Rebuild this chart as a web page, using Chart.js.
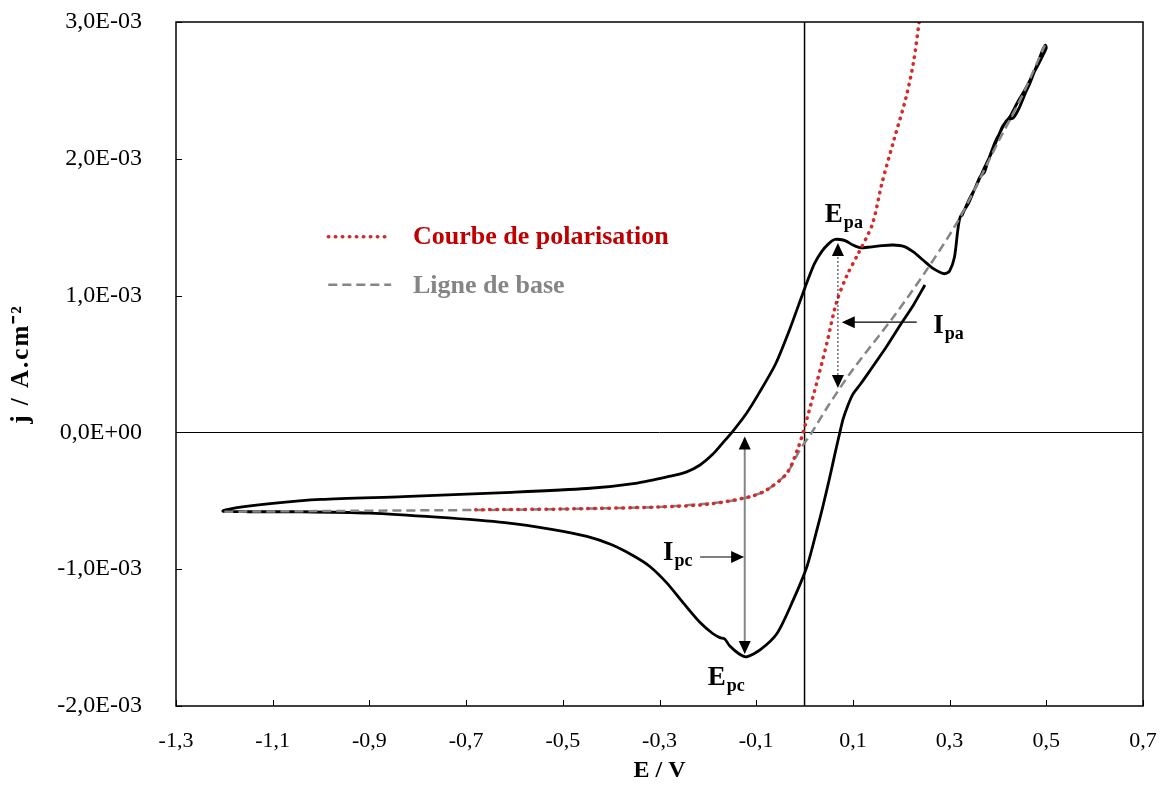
<!DOCTYPE html>
<html>
<head>
<meta charset="utf-8">
<script src="https://cdn.jsdelivr.net/npm/chart.js@4"></script>
<style>
  body { margin: 0; background: #fff; }
  canvas { display: block; }
</style>
</head>
<body>
<canvas id="cv" width="1166" height="785"></canvas>
<script>
// Voltammogramme : E en V, j en 1E-03 A.cm-2
const cvE = [0.249, 0.225, 0.197, 0.17, 0.135, 0.115, 0.10, 0.09, 0.08, 0.073, 0.062, 0.052, 0.038, 0.025,
    0.005, -0.024, -0.057, -0.092, -0.12, -0.135, -0.155, -0.165, -0.175, -0.19, -0.216, -0.25,
    -0.285, -0.32, -0.355, -0.40, -0.45, -0.52, -0.62, -0.76, -0.90, -1.04, -1.15, -1.203,
    -1.174, -1.105, -1.0, -0.83, -0.62, -0.45, -0.346, -0.278, -0.245, -0.217, -0.19, -0.17,
    -0.148, -0.12, -0.092, -0.06, -0.03, 0.001, 0.02, 0.035, 0.05, 0.062, 0.073, 0.085, 0.10,
    0.115, 0.135, 0.16, 0.183, 0.205, 0.225, 0.245, 0.265, 0.28, 0.29, 0.30,
    0.31, 0.317, 0.322, 0.34, 0.363, 0.372, 0.38, 0.395, 0.404, 0.418, 0.432, 0.445, 0.458,
    0.466, 0.48, 0.493, 0.498, 0.50, 0.495, 0.485, 0.47, 0.455, 0.44, 0.425, 0.41, 0.398,
    0.385, 0.37, 0.355, 0.34, 0.325];
const cvJ = [1.078, 0.93, 0.78, 0.63, 0.45, 0.35, 0.28, 0.20, 0.10, 0.0, -0.17, -0.33, -0.54, -0.72,
    -0.98, -1.23, -1.47, -1.59, -1.64, -1.62, -1.56, -1.51, -1.50, -1.47, -1.39, -1.25,
    -1.10, -0.98, -0.90, -0.82, -0.76, -0.71, -0.66, -0.62, -0.59, -0.58, -0.58, -0.575,
    -0.55, -0.52, -0.49, -0.47, -0.44, -0.41, -0.37, -0.32, -0.29, -0.24, -0.16, -0.08,
    0.01, 0.14, 0.30, 0.50, 0.76, 1.06, 1.23, 1.32, 1.38, 1.41, 1.41, 1.40, 1.37,
    1.35, 1.355, 1.365, 1.37, 1.36, 1.32, 1.26, 1.20, 1.17, 1.16, 1.18,
    1.28, 1.48, 1.575, 1.68, 1.87, 1.90, 1.99, 2.13, 2.19, 2.28, 2.30, 2.38, 2.49,
    2.55, 2.68, 2.80, 2.83, 2.81, 2.77, 2.70, 2.60, 2.50, 2.41, 2.31, 2.24, 2.14,
    2.03, 1.92, 1.80, 1.70, 1.58];

// Ligne de base
const baseE = [-1.2, -1.0, -0.8, -0.6, -0.42, -0.3, -0.216, -0.15, -0.113, -0.078, -0.037, -0.01,
    0.015, 0.05, 0.10, 0.183, 0.253, 0.322, 0.40, 0.45, 0.497];
const baseJ = [-0.58, -0.575, -0.57, -0.565, -0.555, -0.545, -0.525, -0.50, -0.47, -0.42, -0.30, -0.13,
    0.0, 0.20, 0.46, 0.84, 1.19, 1.575, 2.12, 2.46, 2.83];

// Courbe de polarisation
const polE = [-0.68, -0.5, -0.3, -0.2, -0.113, -0.078, -0.037, -0.014, -0.003, 0.005, 0.025, 0.046,
    0.066, 0.088, 0.11, 0.14, 0.16, 0.185, 0.21, 0.225, 0.237];
const polJ = [-0.565, -0.56, -0.545, -0.525, -0.47, -0.42, -0.30, -0.12, 0.0, 0.10, 0.36, 0.65,
    0.95, 1.15, 1.30, 1.52, 1.82, 2.14, 2.45, 2.70, 3.0];

const xTicks = [-1.3, -1.1, -0.9, -0.7, -0.5, -0.3, -0.1, 0.1, 0.3, 0.5, 0.7];
const yTicks = [-2e-3, -1e-3, 0, 1e-3, 2e-3, 3e-3];

const legendLabels = ['Courbe de polarisation', 'Ligne de base'];

const toPts = (es, js) => es.map((e, i) => ({ x: e, y: js[i] * 1e-3 }));

const SERIF = "'Liberation Serif', 'Times New Roman', serif";
const RED = '#d42a2a';
const GREY = '#858585';

function fmtExp(v) {
    const s = v.toExponential(1).split('e');
    const n = parseInt(s[1], 10);
    return s[0].replace('.', ',') + 'E' + (n < 0 ? '-' : '+') + String(Math.abs(n)).padStart(2, '0');
}

function arrowHead(ctx, x, y, dx, dy) {
    // pointe en (x,y), direction (dx,dy)
    const len = 13, half = 6;
    const n = Math.hypot(dx, dy);
    const ux = dx / n, uy = dy / n;
    ctx.beginPath();
    ctx.moveTo(x, y);
    ctx.lineTo(x - ux * len - uy * half, y - uy * len + ux * half);
    ctx.lineTo(x - ux * len + uy * half, y - uy * len - ux * half);
    ctx.closePath();
    ctx.fill();
}

function subText(ctx, main, sub, x, y) {
    ctx.font = 'bold 27px ' + SERIF;
    ctx.textAlign = 'left';
    ctx.textBaseline = 'alphabetic';
    ctx.fillText(main, x, y);
    const w = ctx.measureText(main).width;
    ctx.font = 'bold 18px ' + SERIF;
    ctx.fillText(sub, x + w + 1, y + 6);
}

const decor = {
    id: 'decor',
    beforeDatasetsDraw(chart) {
        const { ctx, chartArea: a, scales: { x, y } } = chart;
        ctx.save();
        ctx.strokeStyle = '#000';
        ctx.lineWidth = 1;
        const y0 = Math.round(y.getPixelForValue(0)) + 0.5;
        ctx.beginPath(); ctx.moveTo(a.left, y0); ctx.lineTo(a.right, y0); ctx.stroke();
        ctx.lineWidth = 1.5;
        const x0 = x.getPixelForValue(0);
        ctx.beginPath(); ctx.moveTo(x0, a.top); ctx.lineTo(x0, a.bottom); ctx.stroke();
        ctx.restore();
    },
    afterDatasetsDraw(chart) {
        const { ctx, chartArea: a, scales: { x, y } } = chart;
        const px = v => x.getPixelForValue(v);
        const py = v => y.getPixelForValue(v * 1e-3);
        ctx.save();

        // cadre + graduations intérieures
        ctx.strokeStyle = '#000';
        ctx.lineWidth = 1.5;
        ctx.strokeRect(a.left, a.top, a.right - a.left, a.bottom - a.top);
        ctx.lineWidth = 1;
        xTicks.forEach(t => {
            const p = Math.round(x.getPixelForValue(t)) + 0.5;
            ctx.beginPath(); ctx.moveTo(p, a.bottom); ctx.lineTo(p, a.bottom - 6); ctx.stroke();
        });
        yTicks.forEach(t => {
            const p = Math.round(y.getPixelForValue(t)) + 0.5;
            ctx.beginPath(); ctx.moveTo(a.left, p); ctx.lineTo(a.left + 6, p); ctx.stroke();
        });

        // titre de l'axe des ordonnées
        ctx.save();
        ctx.translate(22, (a.top + a.bottom) / 2);
        ctx.rotate(-Math.PI / 2);
        ctx.font = 'bold 25px ' + SERIF;
        ctx.letterSpacing = '2px';
        ctx.fillStyle = '#000';
        ctx.textAlign = 'center';
        ctx.textBaseline = 'middle';
        ctx.fillText('j / A.cm⁻²', 0, 0);
        ctx.restore();

        // légende dans le graphe
        ctx.lineCap = 'round';
        ctx.strokeStyle = RED;
        ctx.lineWidth = 3.5;
        ctx.setLineDash([0.5, 6.5]);
        ctx.beginPath(); ctx.moveTo(px(-0.985), py(1.43)); ctx.lineTo(px(-0.855), py(1.43)); ctx.stroke();
        ctx.lineCap = 'butt';
        ctx.strokeStyle = GREY;
        ctx.lineWidth = 2.5;
        ctx.setLineDash([9, 5]);
        ctx.beginPath(); ctx.moveTo(px(-0.985), py(1.08)); ctx.lineTo(px(-0.855), py(1.08)); ctx.stroke();
        ctx.setLineDash([]);
        ctx.font = 'bold 26px ' + SERIF;
        ctx.textAlign = 'left';
        ctx.textBaseline = 'alphabetic';
        ctx.fillStyle = '#c00000';
        ctx.fillText(legendLabels[0], px(-0.81), py(1.375));
        ctx.fillStyle = GREY;
        ctx.fillText(legendLabels[1], px(-0.81), py(1.02));

        // Ipc : flèche verticale grise
        ctx.fillStyle = '#000';
        ctx.strokeStyle = GREY;
        ctx.lineWidth = 2;
        const xc = px(-0.1237);
        ctx.beginPath(); ctx.moveTo(xc, py(-0.03) + 10); ctx.lineTo(xc, py(-1.62) - 10); ctx.stroke();
        arrowHead(ctx, xc, py(-0.03), 0, -1);
        arrowHead(ctx, xc, py(-1.62), 0, 1);
        ctx.strokeStyle = '#000';
        ctx.lineWidth = 1.2;
        ctx.beginPath(); ctx.moveTo(px(-0.216), py(-0.911)); ctx.lineTo(px(-0.125) - 10, py(-0.911)); ctx.stroke();
        arrowHead(ctx, px(-0.125), py(-0.911), 1, 0);

        // Ipa : flèche verticale pointillée
        const xa = px(0.069);
        ctx.strokeStyle = '#222';
        ctx.lineWidth = 1;
        ctx.setLineDash([2, 2]);
        ctx.beginPath(); ctx.moveTo(xa, py(1.385) + 10); ctx.lineTo(xa, py(0.325) - 10); ctx.stroke();
        ctx.setLineDash([]);
        arrowHead(ctx, xa, py(1.385), 0, -1);
        arrowHead(ctx, xa, py(0.325), 0, 1);
        ctx.strokeStyle = '#000';
        ctx.lineWidth = 1.2;
        ctx.beginPath(); ctx.moveTo(px(0.232), py(0.806)); ctx.lineTo(px(0.077) + 10, py(0.806)); ctx.stroke();
        arrowHead(ctx, px(0.077), py(0.806), -1, 0);

        // étiquettes
        ctx.fillStyle = '#000';
        subText(ctx, 'E', 'pa', px(0.042), py(1.538));
        subText(ctx, 'I', 'pa', px(0.266), py(0.727));
        subText(ctx, 'I', 'pc', px(-0.293), py(-0.933));
        subText(ctx, 'E', 'pc', px(-0.2), py(-1.846));

        ctx.restore();
    }
};

new Chart(document.getElementById('cv'), {
    type: 'scatter',
    data: {
        datasets: [
            {
                label: legendLabels[0],
                data: toPts(polE, polJ),
                showLine: true,
                borderColor: RED,
                borderWidth: 3.5,
                borderDash: [0.5, 6.5],
                borderCapStyle: 'round',
                tension: 0.3,
                pointRadius: 0
            },
            {
                label: legendLabels[1],
                data: toPts(baseE, baseJ),
                showLine: true,
                borderColor: GREY,
                borderWidth: 2.5,
                borderDash: [9, 5],
                tension: 0.3,
                pointRadius: 0
            },
            {
                label: 'CV',
                data: toPts(cvE, cvJ),
                showLine: true,
                borderColor: '#000',
                borderWidth: 2.8,
                tension: 0.25,
                pointRadius: 0
            }
        ]
    },
    options: {
        responsive: false,
        animation: false,
        layout: { padding: { top: 22, right: 23, left: 0, bottom: 0 } },
        plugins: {
            legend: { display: false },
            tooltip: { enabled: false }
        },
        scales: {
            x: {
                type: 'linear',
                min: -1.3,
                max: 0.7,
                afterBuildTicks: s => { s.ticks = xTicks.map(v => ({ value: v })); },
                afterFit: s => {
                    s.height = 79;
                    s.paddingLeft = 0;
                    s.paddingRight = 0;
                },
                ticks: {
                    color: '#000',
                    font: { family: SERIF, size: 22 },
                    padding: 14,
                    maxRotation: 0,
                    autoSkip: false,
                    callback: v => v.toFixed(1).replace('.', ',')
                },
                grid: { display: false },
                border: { display: false },
                title: {
                    display: true,
                    text: 'E / V',
                    color: '#000',
                    font: { family: SERIF, size: 24, weight: 'bold' },
                    padding: { top: 0, bottom: 0 }
                }
            },
            y: {
                min: -0.002,
                max: 0.003,
                afterBuildTicks: s => { s.ticks = yTicks.map(v => ({ value: v })); },
                afterFit: s => {
                    s.width = 176;
                    s.paddingTop = 0;
                    s.paddingBottom = 0;
                },
                ticks: {
                    color: '#000',
                    font: { family: SERIF, size: 24 },
                    padding: 26,
                    callback: v => fmtExp(v)
                },
                grid: { display: false },
                border: { display: false }
            }
        }
    },
    plugins: [decor]
});
</script>
</body>
</html>
